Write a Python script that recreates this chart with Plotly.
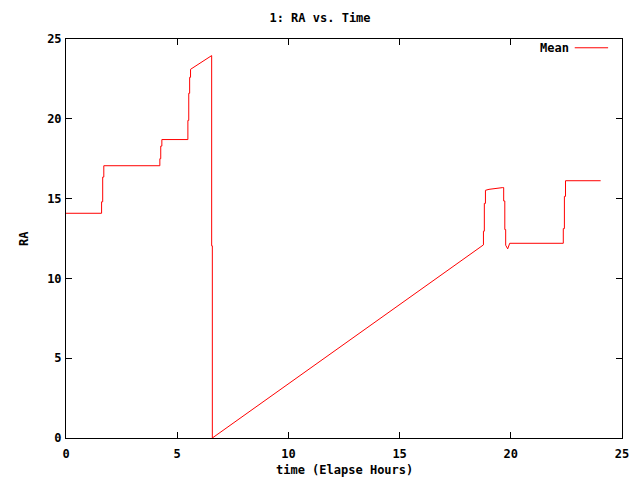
import plotly.graph_objects as go

# Elapsed hours and mean RA
time_hours = [0.0, 1.60, 1.60, 1.65, 1.65, 1.70, 1.70, 4.22, 4.22, 4.26, 4.26, 4.31, 4.31,
              5.48, 5.48, 5.52, 5.52, 5.56, 5.56, 5.60, 5.60, 6.55, 6.55, 6.58, 6.58,
              18.74, 18.77, 18.77, 18.81, 18.81, 18.86, 18.86, 19.02, 19.64,
              19.68, 19.68, 19.73, 19.73, 19.77, 19.77, 19.86, 19.95, 22.36,
              22.36, 22.41, 22.41, 22.46, 22.46, 24.04]
ra_mean = [14.08, 14.08, 14.80, 14.80, 16.35, 16.35, 17.06, 17.06, 17.50, 17.50, 18.29, 18.29, 18.70,
           18.70, 19.90, 19.90, 21.60, 21.60, 22.60, 22.60, 23.10, 23.96, 12.04, 12.04, 0.0,
           12.10, 12.10, 12.96, 12.96, 14.70, 14.70, 15.52, 15.58, 15.69,
           15.69, 14.85, 14.85, 13.06, 13.06, 12.08, 11.85, 12.20, 12.20,
           13.12, 13.12, 15.14, 15.14, 16.12, 16.12]

x_ticks = [0, 5, 10, 15, 20, 25]
y_ticks = [0, 5, 10, 15, 20, 25]

FONT = "DejaVu Sans Mono"

fig = go.Figure()
fig.add_trace(go.Scatter(x=time_hours, y=ra_mean, mode="lines", name="Mean",
                         line=dict(color="#ff0000", width=1), showlegend=False))

axis_common = dict(showline=True, linecolor="black", linewidth=1, mirror="ticks",
                   ticks="inside", ticklen=6, tickcolor="black", tickwidth=1,
                   showgrid=False, zeroline=False, automargin=False,
                   tickfont=dict(family=FONT, size=12, color="black"))

fig.update_layout(
    width=640, height=480,
    paper_bgcolor="white", plot_bgcolor="white",
    margin=dict(l=66, r=18, t=39, b=42),
    title=dict(text="<b>1: RA vs. Time</b>", x=0.5, xanchor="center", y=1 - 18 / 480,
               yanchor="middle", font=dict(family=FONT, size=12, color="black")),
    xaxis=dict(range=[0, 25], tickvals=x_ticks, ticktext=[f"<b>{t}</b>" for t in x_ticks],
               ticklabelstandoff=5, **axis_common),
    yaxis=dict(range=[0, 25], tickvals=y_ticks, ticktext=[f"<b>{t}</b>" for t in y_ticks],
               ticklabelstandoff=1, **axis_common),
    showlegend=False,
)

# x-axis label
fig.add_annotation(text="<b>time (Elapse Hours)</b>", xref="paper", yref="paper", x=0.5,
                   y=-(470 - 438) / 399, showarrow=False, xanchor="center", yanchor="middle",
                   font=dict(family=FONT, size=12, color="black"))

# y-axis label (rotated, as in gnuplot)
fig.add_annotation(text="<b>RA</b>", xref="paper", yref="paper", x=-(66 - 24) / 556,
                   y=(438 - 239) / 399, textangle=-90,
                   showarrow=False, xanchor="center", yanchor="middle",
                   font=dict(family=FONT, size=12, color="black"))

# legend key: text then line sample, top right inside the plot
fig.add_annotation(text="<b>Mean</b>", xref="paper", yref="paper", x=0.909, y=0.978,
                   showarrow=False, xanchor="right", yanchor="middle",
                   font=dict(family=FONT, size=12, color="black"))
fig.add_shape(type="line", xref="paper", yref="paper", x0=0.915, x1=0.975, y0=0.978, y1=0.978,
              line=dict(color="#ff0000", width=1))

fig.write_html("out.html", config={"displayModeBar": False},
               post_script="document.body.style.margin='0';document.body.style.overflow='hidden';")
